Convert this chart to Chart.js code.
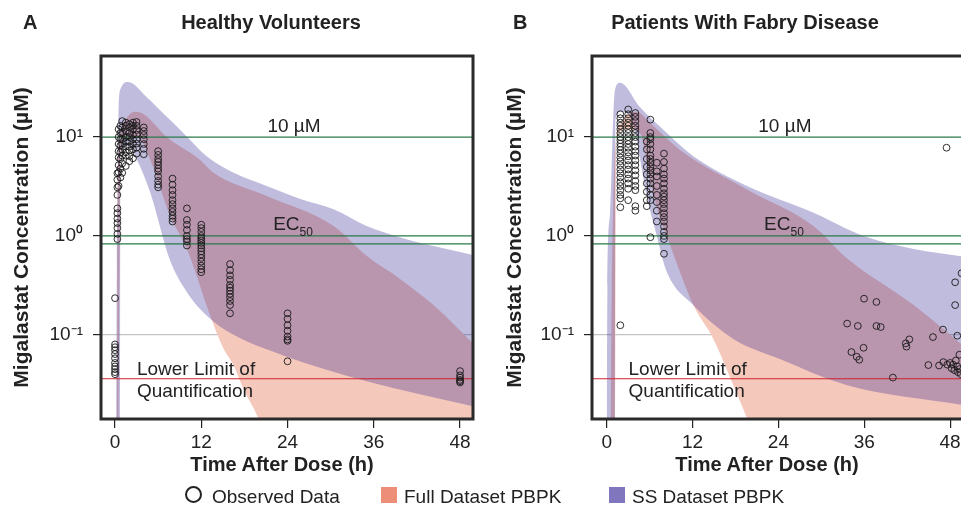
<!DOCTYPE html>
<html>
<head>
<meta charset="utf-8">
<script src="https://cdn.jsdelivr.net/npm/chart.js@4.4.1/dist/chart.umd.min.js"></script>
<style>
  body { margin: 0; width: 961px; height: 506px; overflow: hidden; background: #fff; position: relative;
         font-family: Arial, "Liberation Sans", sans-serif; color: #222; }
  canvas { position: absolute; top: 0; }
  #chartA { left: 0; }
  #chartB { left: 480px; }
  .ttl { position: absolute; top: 12px; font-size: 20px; font-weight: bold; line-height: 20px; white-space: nowrap; }
  .xt { position: absolute; top: 454px; font-size: 20px; font-weight: bold; line-height: 20px; white-space: nowrap; transform: translateX(-50%); }
  .lt { position: absolute; top: 487px; font-size: 19px; line-height: 19px; white-space: nowrap; }
  .sq { position: absolute; top: 487px; width: 16px; height: 16px; }
  .circ { position: absolute; top: 486px; width: 13px; height: 13px; border: 2.5px solid #222; border-radius: 50%; }
</style>
</head>
<body>
<canvas id="chartA" width="480" height="506"></canvas>
<canvas id="chartB" width="490" height="506"></canvas>

<div class="ttl" style="left:23px">A</div>
<div class="ttl" style="left:271px;transform:translateX(-50%)">Healthy Volunteers</div>
<div class="ttl" style="left:513px">B</div>
<div class="ttl" style="left:745px;transform:translateX(-50%)">Patients With Fabry Disease</div>

<div class="xt" style="left:282px">Time After Dose (h)</div>
<div class="xt" style="left:767px">Time After Dose (h)</div>

<span class="circ" style="left:185px"></span><span class="lt" style="left:212px">Observed Data</span>
<span class="sq" style="left:381px;background:rgb(237,142,120)"></span><span class="lt" style="left:404px">Full Dataset PBPK</span>
<span class="sq" style="left:609px;background:rgb(128,118,190)"></span><span class="lt" style="left:632px">SS Dataset PBPK</span>

<script>
Chart.defaults.font.family = 'Arial, "Liberation Sans", sans-serif'
Chart.defaults.color = '#222'

// axes
const xTicks = [0, 12, 24, 36, 48]
const yTicks = [0.1, 1, 10]
const yTickLabels = ['10⁻¹', '10⁰', '10¹']
const refLines = [10, 1, 0.83]   // 10 µM and the EC50 band
const lloq = 0.036

// A: healthy volunteers, SS dataset PBPK band (µM)
const ssHighTA = [0, 0.15, 0.25, 0.4, 0.5, 0.8, 1.85, 4.35, 7.2, 10, 12.75, 16.5, 21.1, 25.7, 30.4, 35, 39.6, 44.3, 49.8]
const ssHighA  = [0.005, 0.01, 0.5, 5, 20, 31, 36, 25.6, 16, 10.1, 6.4, 4.35, 3.2, 2.38, 1.86, 1.26, 0.97, 0.79, 0.64]
const ssLowTA  = [0, 0.6, 0.7, 0.75, 2, 3, 4.9, 7.6, 10, 13.2, 16.5, 23.4, 35, 49.8]
const ssLowA   = [0.005, 0.008, 0.01, 8, 8, 6, 2.75, 0.58, 0.27, 0.146, 0.1, 0.062, 0.034, 0.019]
// A: full dataset PBPK band
const fullHighTA = [0, 0.3, 0.35, 0.45, 0.7, 1.5, 2.8, 4, 7.2, 11.8, 13.7, 21.1, 30.4, 35, 39.6, 44.3, 49.8]
const fullHighA  = [0.005, 0.01, 1, 5, 10, 15, 18, 17, 10, 5.9, 4.35, 2.53, 1.26, 0.63, 0.37, 0.2, 0.082]
const fullLowTA  = [0, 0.45, 0.5, 0.75, 2, 3.2, 4.9, 7.65, 10, 13.2, 15, 16.5, 18, 19.7, 21, 49.8]
const fullLowA   = [0.005, 0.008, 0.01, 8, 10, 10, 5.9, 1.6, 0.74, 0.16, 0.075, 0.049, 0.027, 0.0157, 0.009, 0.001]

// A: observed data, grouped by sampling time
const obsTimeA = [0, 0.33, 0.5, 0.75, 1, 1.5, 2, 2.5, 3, 4, 6, 8, 10, 12, 16, 24, 48]
const obsConcA = [
  [0.235, 0.08, 0.075, 0.07, 0.064, 0.058, 0.052, 0.048, 0.045, 0.042, 0.04],
  [4.3, 3.7, 3.1, 2.6, 1.9, 1.7, 1.5, 1.35, 1.2, 1.05, 0.93],
  [12, 10, 8.5, 7.2, 6.2, 5.2, 4.4, 3.2],
  [13, 11, 9.5, 8.2, 7, 6, 4.8, 3.9],
  [14.5, 12.5, 11, 9.5, 8.5, 7.5, 6.5, 5.4, 4.35],
  [14, 13, 11.5, 10, 9, 8, 7, 6.5, 5.1],
  [13.5, 12.5, 11, 10, 9, 8, 7.3, 6.4, 5.7],
  [14, 13, 12, 10.5, 9.5, 8.5, 7.5, 6.1],
  [14.2, 13, 11.8, 10.6, 9.5, 8.6, 7.8, 6.8],
  [12.5, 11.5, 10.5, 9.5, 8.5, 7.6, 6.7],
  [7.2, 6.6, 6.0, 5.6, 5.2, 4.8, 4.5, 4.0, 3.6, 3.3, 3.1],
  [3.8, 3.3, 2.9, 2.6, 2.3, 2.1, 1.9, 1.75, 1.6, 1.5, 1.4],
  [1.9, 1.45, 1.3, 1.15, 1.0, 0.93, 0.88, 0.8],
  [1.3, 1.2, 1.1, 1.0, 0.95, 0.9, 0.85, 0.8, 0.75, 0.7, 0.65, 0.6, 0.55, 0.5, 0.46, 0.43],
  [0.52, 0.45, 0.4, 0.36, 0.32, 0.3, 0.28, 0.26, 0.24, 0.22, 0.2, 0.165],
  [0.165, 0.145, 0.125, 0.11, 0.096, 0.09, 0.087, 0.054],
  [0.043, 0.039, 0.037, 0.035, 0.034, 0.033]
]

// B: patients with Fabry disease, SS dataset PBPK band
const ssHighTB = [0, 0.1, 0.46, 0.93, 1.16, 1.86, 4.66, 8.4, 12.1, 19.6, 28.9, 35.9, 42.9, 49.8]
const ssHighB  = [0.005, 0.3, 1.7, 17, 30, 35.5, 20, 11, 6.4, 3.2, 1.72, 1.0, 0.74, 0.62]
const ssLowTB  = [0, 1.0, 1.15, 1.2, 2, 3, 4, 4.66, 5.6, 7, 8.3, 12.1, 17.7, 24.2, 33.6, 49.8]
const ssLowB   = [0.005, 0.008, 0.01, 15, 18, 17, 11, 6, 2.5, 1, 0.45, 0.2, 0.091, 0.057, 0.031, 0.0195]
// B: full dataset PBPK band
const fullHighTB = [0, 0.5, 0.7, 0.9, 1.2, 2, 3, 4.2, 6, 10.25, 19.6, 28.9, 33.6, 42.9, 49.8]
const fullHighB  = [0.005, 0.006, 0.3, 2, 8, 14, 17, 18, 14, 7.4, 2.95, 1.26, 0.59, 0.2, 0.078]
const fullLowTB  = [0, 1.0, 1.15, 1.3, 3, 4.66, 6.05, 7.45, 8.4, 10.25, 12.1, 14.9, 17.7, 19.6, 21, 49.8]
const fullLowB   = [0.005, 0.008, 0.01, 10, 12, 11, 3.7, 1.5, 1.0, 0.43, 0.2, 0.091, 0.031, 0.0144, 0.008, 0.001]

// B: observed data, early columns
const obsTimeB = [1.9, 3, 4, 5.6, 6.1, 7, 8]
const obsConcB = [
  [17, 15.5, 14, 13, 12, 11, 10, 9.3, 8.6, 8, 7.4, 6.8, 6.2, 5.7, 5.2, 4.7, 4.3, 3.9, 3.5, 3.2, 2.9, 2.6, 2.4, 1.95, 0.125],
  [19, 17, 15.5, 14, 13, 12, 11, 10, 9.2, 8.5, 7.8, 7, 6.4, 5.8, 5.2, 4.7, 4.2, 3.8, 3.4, 3.0, 2.3],
  [17.5, 16, 14.5, 13, 12, 11, 10, 9, 8, 7.2, 6.5, 5.8, 5.2, 4.6, 4.1, 3.6, 3.2, 2.9, 2.0, 1.8],
  [9, 7.5, 6, 5, 4.2, 3.4, 2.8, 2.3, 2.0],
  [15, 11, 10, 9.5, 8.5, 7.5, 6.5, 6, 5.5, 5, 4.6, 4.2, 3.8, 3.4, 3.0, 2.6, 2.3, 0.97],
  [5.5, 4.5, 4.0, 3.2, 2.6, 2.2, 1.8, 1.4],
  [6.8, 5.6, 4.8, 4.2, 3.8, 3.4, 3.0, 2.7, 2.5, 2.3, 2.1, 1.9, 1.7, 1.55, 1.4, 1.25, 1.1, 1.0, 0.93, 0.66]
]
// B: observed data, late scattered samples
const lateTimeB = [33.6, 34.2, 34.95, 35.1, 35.3, 35.9, 35.97, 37.7, 37.7, 38.3, 40.0, 41.8, 41.9, 42.3, 44.96, 45.6, 46.45, 47.0, 47.05, 47.5, 47.6, 48.0, 48.2, 48.4, 48.6, 48.7, 48.7, 48.8, 49.0, 49.0, 49.1, 49.3, 49.3, 49.5, 49.6]
const lateConcB = [0.13, 0.067, 0.06, 0.123, 0.056, 0.074, 0.232, 0.215, 0.123, 0.12, 0.037, 0.082, 0.076, 0.09, 0.0495, 0.095, 0.049, 0.113, 0.053, 7.8, 0.05, 0.052, 0.046, 0.05, 0.044, 0.34, 0.2, 0.055, 0.098, 0.048, 0.042, 0.063, 0.045, 0.04, 0.42]

const pts = (ts, vs) => ts.map((t, i) => ({ x: t, y: vs[i] }))
const cols = (ts, groups) => ts.flatMap((t, i) => groups[i].map(v => ({ x: t, y: v })))

const SALMON = 'rgb(245,200,188)'
const PURPLE = 'rgba(45,32,142,0.3)'
const GREEN = 'rgb(40,122,72)'
const RED = 'rgb(205,35,45)'

// frame, reference line labels
const decor = {
  id: 'decor',
  afterDraw(chart) {
    const { ctx, chartArea: a, scales: { x, y } } = chart
    ctx.save()
    ctx.strokeStyle = '#2a2a2a'
    ctx.lineWidth = 3
    ctx.strokeRect(a.left, a.top, a.right - a.left, a.bottom - a.top)
    ctx.fillStyle = '#222'
    ctx.textBaseline = 'alphabetic'
    ctx.font = '19px Arial, "Liberation Sans", sans-serif'
    ctx.textAlign = 'center'
    ctx.fillText('10 µM', x.getPixelForValue(24.9), y.getPixelForValue(refLines[0]) - 5)
    ctx.textAlign = 'left'
    const ex = x.getPixelForValue(22), ey = y.getPixelForValue(refLines[1]) - 6
    ctx.fillText('EC', ex, ey)
    const w = ctx.measureText('EC').width
    ctx.font = '12px Arial, "Liberation Sans", sans-serif'
    ctx.fillText('50', ex + w, ey + 6)
    ctx.font = '19px Arial, "Liberation Sans", sans-serif'
    const lx = x.getPixelForValue(3.05), ly = y.getPixelForValue(lloq)
    ctx.fillText('Lower Limit of', lx, ly - 4)
    ctx.fillText('Quantification', lx, ly + 18)
    ctx.restore()
  }
}

function makePanel(id, p) {
  const hline = (v, color) => ({
    data: [{ x: p.xMin, y: v }, { x: p.xMax, y: v }],
    borderColor: color, borderWidth: 1.2, pointRadius: 0, fill: false, order: 1
  })
  const band = (data, color, target, order) => ({
    data, borderColor: 'transparent', borderWidth: 0, pointRadius: 0,
    backgroundColor: color, fill: target === null ? false : { target }, order,
    cubicInterpolationMode: 'monotone'
  })
  return new Chart(id, {
    type: 'line',
    data: {
      datasets: [
        { data: p.obs, showLine: false, pointRadius: 3.4, pointBorderWidth: 1,
          pointBorderColor: 'rgba(25,25,25,0.9)', pointBackgroundColor: 'transparent', order: 0 },
        hline(refLines[0], GREEN),
        hline(refLines[1], GREEN),
        hline(refLines[2], GREEN),
        hline(lloq, RED),
        band(p.ssHigh, PURPLE, 6, 2),
        band(p.ssLow, PURPLE, null, 2),
        band(p.fullHigh, SALMON, 8, 3),
        band(p.fullLow, SALMON, null, 3)
      ]
    },
    options: {
      responsive: false,
      animation: false,
      layout: { padding: { left: 0, right: 7, top: 56, bottom: 47 } },
      plugins: { legend: { display: false }, tooltip: { enabled: false } },
      scales: {
        x: {
          type: 'linear', min: p.xMin, max: p.xMax,
          afterBuildTicks: s => { s.ticks = xTicks.map(v => ({ value: v })) },
          afterFit: s => { s.height = 40 },
          grid: { drawOnChartArea: false, drawTicks: true, tickLength: 9, tickColor: '#222', lineWidth: 1.2 },
          border: { display: false },
          ticks: { font: { size: 19 }, color: '#222', padding: 3, maxRotation: 0, autoSkip: false }
        },
        y: {
          type: 'logarithmic', min: 0.0141, max: 66, z: 1,
          afterBuildTicks: s => { s.ticks = yTicks.map(v => ({ value: v })) },
          afterFit: s => { s.width = p.yWidth },
          grid: {
            color: c => (c.index === 0 ? 'rgb(195,195,195)' : 'transparent'),
            tickColor: '#222', tickLength: 8, lineWidth: 1.2
          },
          border: { display: false },
          ticks: { font: { size: 19 }, color: '#222', padding: 10,
                   callback: (v, i) => yTickLabels[i] },
          title: { display: true, text: 'Migalastat Concentration (µM)', color: '#222',
                   font: { size: 21, weight: 'bold' }, padding: { top: p.titlePad, bottom: 0 } }
        }
      }
    },
    plugins: [decor]
  })
}

makePanel('chartA', {
  xMin: -1.95, xMax: 49.8, yWidth: 101, titlePad: 9.4,
  obs: cols(obsTimeA, obsConcA),
  ssHigh: pts(ssHighTA, ssHighA), ssLow: pts(ssLowTA, ssLowA),
  fullHigh: pts(fullHighTA, fullHighA), fullLow: pts(fullLowTA, fullLowA)
})

makePanel('chartB', {
  xMin: -2.06, xMax: 49.8, yWidth: 112, titlePad: 22.4,
  obs: cols(obsTimeB, obsConcB).concat(pts(lateTimeB, lateConcB)),
  ssHigh: pts(ssHighTB, ssHighB), ssLow: pts(ssLowTB, ssLowB),
  fullHigh: pts(fullHighTB, fullHighB), fullLow: pts(fullLowTB, fullLowB)
})
</script>
</body>
</html>
